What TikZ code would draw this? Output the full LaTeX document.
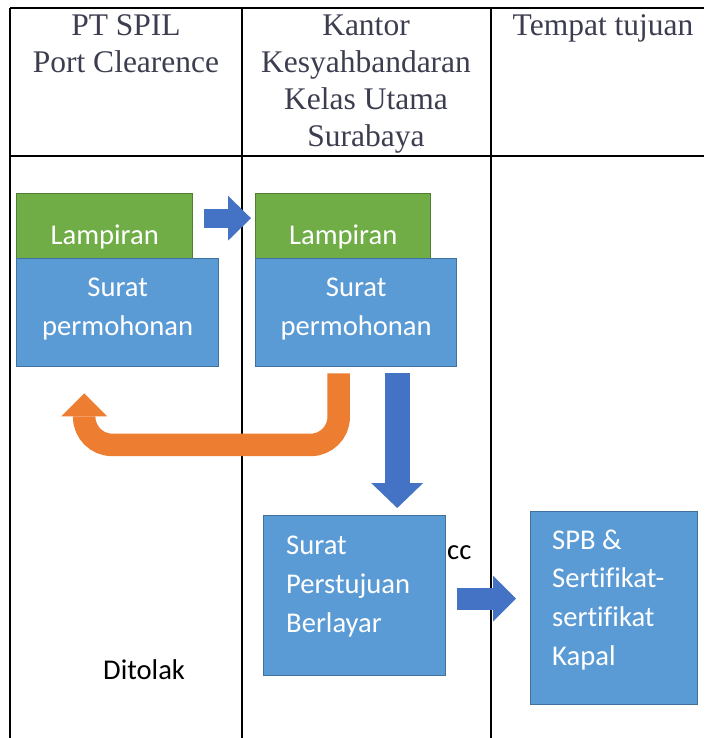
\documentclass[tikz,border=0pt]{standalone}
\usepackage{fontspec}
\setmainfont{Liberation Serif}
\newfontfamily\calibri[Ligatures=NoCommon]{Carlito}
\usetikzlibrary{arrows.meta,calc}

\definecolor{boxgreen}{HTML}{70AD47}
\definecolor{boxgreenline}{HTML}{507E32}
\definecolor{boxblue}{HTML}{5B9BD5}
\definecolor{boxblueline}{HTML}{41719C}
\definecolor{arrowblue}{HTML}{4472C4}
\definecolor{arroworange}{HTML}{ED7D31}
\definecolor{headgray}{RGB}{60,62,80}

\tikzset{
  lampbox/.style={draw=boxgreenline, fill=boxgreen, line width=1.4pt, anchor=north west, inner sep=0pt},
  suratbox/.style={draw=boxblueline, fill=boxblue, line width=1.4pt, anchor=north west, inner sep=0pt},
  boxtext/.style={text=white, inner sep=0pt, font=\calibri\fontsize{28.6}{38.6}\selectfont},
  plaintext/.style={text=black, inner sep=0pt, font=\calibri\fontsize{28.6}{38.6}\selectfont},
  headtext/.style={text=headgray, inner sep=0pt, align=center, anchor=base, font=\fontsize{31.5}{37}\selectfont},
  fatarrow/.style={draw=arrowblue, line width=#1},
  fatarrow/.default=19pt
}

\begin{document}
\begin{tikzpicture}[x=1pt, y=-1pt]
\useasboundingbox (0,0) rectangle (704,738);

% table frame
\draw[line width=2.2pt] (10,8) -- (704,8);
\draw[line width=2.2pt] (10,156) -- (704,156);
\foreach \x in {10,242,491} \draw[line width=2.2pt] (\x,8) -- (\x,738);

% headers (base = last line)
\node[headtext] (colA) at (126,73) {PT SPIL\\Port Clearence};
\node[headtext] (colB) at (366,147) {Kantor\\Kesyahbandaran\\Kelas Utama\\Surabaya};
\node[headtext] (colC) at (603,36) {Tempat tujuan};

% documents at PT SPIL
\node[lampbox, minimum width=176pt, minimum height=65pt] (lamp1) at (16,193) {};
\node[suratbox, minimum width=202pt, minimum height=108pt] (surat1) at (16,258) {};
\node[boxtext, anchor=base] (lamp1txt) at ($(lamp1.north)+(0,51)$) {Lampiran};
\node[boxtext, anchor=base, align=center] (surat1txt) at ($(surat1.north)+(0,77)$) {Surat\\permohonan};

% documents at the Kantor
\node[lampbox, minimum width=175pt, minimum height=65pt] (lamp2) at (255,193) {};
\node[suratbox, minimum width=201pt, minimum height=108pt] (surat2) at (255,258) {};
\node[boxtext, anchor=base] (lamp2txt) at ($(lamp2.north)+(0,51)$) {Lampiran};
\node[boxtext, anchor=base, align=center] (surat2txt) at ($(surat2.north)+(0,77)$) {Surat\\permohonan};

% results
\node[plaintext, anchor=base west] (cc) at (447,559) {cc};
\node[suratbox, minimum width=182pt, minimum height=160pt] (sertu) at (263,515) {};
\node[boxtext, anchor=base west, align=left] (sertutxt) at ($(sertu.north west)+(23,117)$) {Surat\\Perstujuan\\Berlayar};
\node[suratbox, minimum width=167pt, minimum height=193pt] (spb) at (530,511) {};
\node[boxtext, anchor=base west, align=left] (spbtxt) at ($(spb.north west)+(22,154)$) {SPB \&\\Sertifikat-\\sertifikat\\Kapal};
\node[plaintext, anchor=base west] (tolak) at (103,679) {Ditolak};

% arrows
\coordinate (kirim1) at ($(lamp1.east)+(11,-8)$);
\coordinate (kirim2) at ($(lamp2.west)+(-4,-8)$);
\draw[fatarrow, -{Triangle[length=23pt,width=45pt,line width=0pt]}] (kirim1) -- (kirim2);

\coordinate (balik1) at ($(surat2.south)+(-17.5,6)$);
\coordinate (balik2) at ($(surat1.south)+(-33.5,26)$);
\draw[draw=arroworange, line width=22.5pt, rounded corners=28pt, -{Triangle[length=23pt,width=46pt,line width=0pt]}]
  (balik1) -- ++(0,71.5) -| (balik2);

\coordinate (turun1) at ($(surat2.south)+(41,6)$);
\coordinate (turun2) at ($(turun1 |- sertu.north)+(0,-7)$);
\draw[fatarrow=25pt, -{Triangle[length=25pt,width=52pt,line width=0pt]}] (turun1) -- (turun2);

\coordinate (lanjut1) at ($(sertu.east)+(11,3)$);
\coordinate (lanjut2) at ($(spb.west)+(-14,-9.5)$);
\draw[fatarrow=22pt, -{Triangle[length=23pt,width=46pt,line width=0pt]}] (lanjut1) -- (lanjut2);
\end{tikzpicture}
\end{document}
